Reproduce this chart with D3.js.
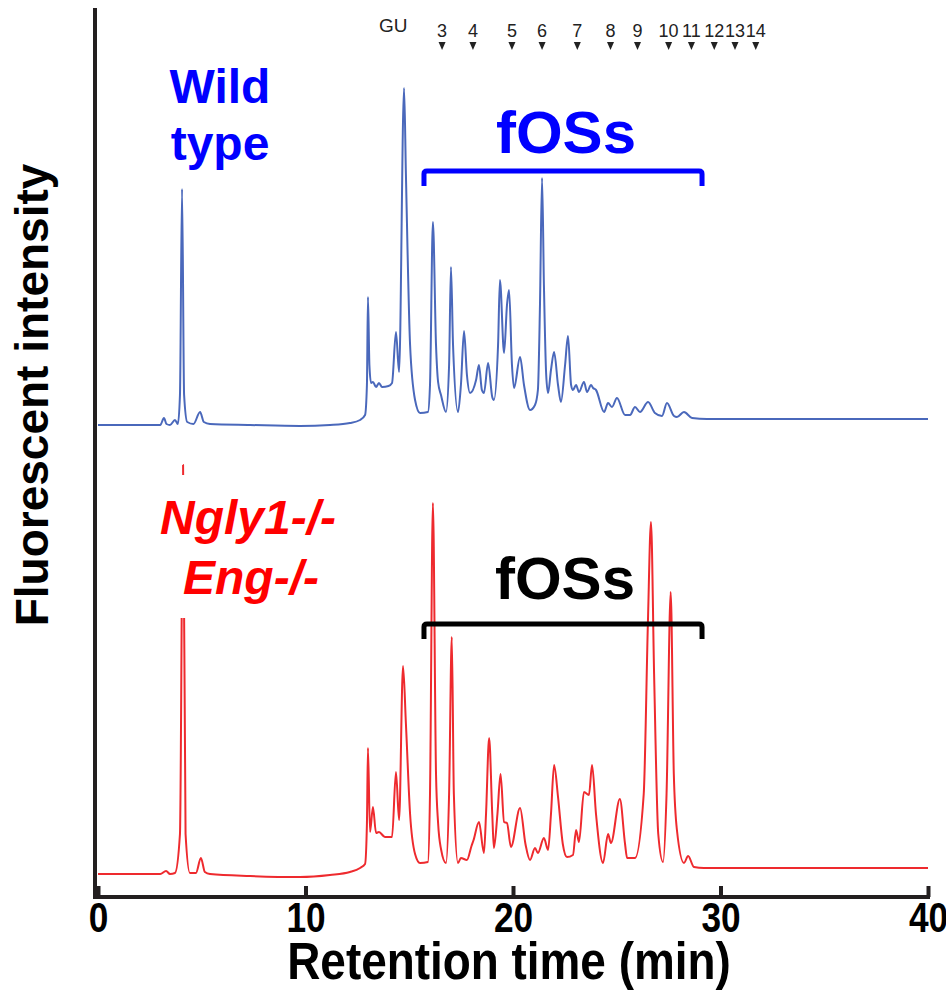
<!DOCTYPE html>
<html>
<head>
<meta charset="utf-8">
<style>
  body { margin: 0; background: #fff; }
  svg text { font-family: "Liberation Sans", Arial, Helvetica, sans-serif; }
</style>
</head>
<body>
<div id="chart"></div>
<script src="https://d3js.org/d3.v7.min.js"></script>
<script>
// retention time (min), fluorescent intensity (a.u.)
const wildType = [
  [0, 0], [3.0, 0], [3.18, 7], [3.3, 1], [3.47, 0], [3.71, 5], [3.85, 1], [3.95, 30], [4.05, 236],
  [4.15, 30], [4.3, 3], [4.6, 1], [4.92, 13], [5.1, 3], [5.4, 1], [7.33, 0], [9.73, -1], [11.18, 0],
  [12.14, 2], [12.63, 5], [12.87, 10], [12.96, 40], [13.01, 128], [13.08, 60], [13.16, 42], [13.25, 43],
  [13.4, 38], [13.54, 42], [13.69, 38], [14.0, 39], [14.17, 42], [14.36, 93], [14.51, 53], [14.75, 337],
  [14.84, 250], [15.04, 80], [15.28, 25], [15.52, 12], [15.9, 13], [16.0, 40], [16.14, 203], [16.29, 80],
  [16.39, 43], [16.53, 30], [16.77, 13], [16.92, 60], [17.01, 158], [17.11, 80], [17.35, 13], [17.49, 40],
  [17.64, 94], [17.78, 50], [17.93, 32], [18.22, 45], [18.36, 60], [18.5, 35], [18.6, 32], [18.8, 62],
  [19.0, 28], [19.08, 25], [19.28, 80], [19.37, 145], [19.57, 72], [19.71, 120], [19.81, 135], [19.95, 60],
  [20.05, 37], [20.34, 68], [20.53, 40], [20.82, 15], [21.06, 20], [21.2, 35], [21.3, 120], [21.4, 247],
  [21.49, 140], [21.6, 50], [21.69, 32], [21.83, 55], [21.98, 73], [22.17, 40], [22.31, 23], [22.51, 60],
  [22.65, 89], [22.8, 40], [22.89, 35], [23.04, 40], [23.18, 33], [23.42, 43], [23.57, 33], [23.76, 40],
  [23.86, 37], [24.0, 35], [24.39, 13], [24.58, 22], [24.77, 18], [25.01, 27], [25.4, 10], [25.64, 10],
  [25.88, 18], [26.12, 13], [26.51, 23], [26.84, 12], [27.18, 9], [27.42, 22], [27.76, 9], [27.9, 8],
  [28.24, 13], [28.63, 7], [29.35, 6], [40, 6]
];

const ngly1Eng = [
  [0, 0], [3.0, 0], [3.28, 3], [3.47, 0], [3.71, 1], [3.95, 40], [4.1, 409], [4.22, 40], [4.43, 1],
  [4.72, 1], [4.96, 16], [5.15, 2], [5.4, 0], [7.33, -2], [9.73, -3], [11.18, -1], [12.14, 2], [12.63, 6],
  [12.87, 10], [12.96, 50], [13.01, 126], [13.11, 42], [13.25, 67], [13.4, 41], [13.54, 42], [13.83, 37],
  [14.17, 37], [14.36, 102], [14.51, 54], [14.7, 208], [14.84, 150], [15.04, 60], [15.28, 20], [15.52, 11],
  [15.9, 12], [16.0, 80], [16.14, 371], [16.29, 100], [16.39, 51], [16.53, 25], [16.77, 11], [16.92, 80],
  [17.05, 237], [17.15, 80], [17.35, 11], [17.49, 16], [17.78, 14], [18.0, 28], [18.1, 34], [18.36, 52],
  [18.6, 21], [18.7, 60], [18.85, 136], [19.0, 60], [19.08, 26], [19.25, 60], [19.4, 100], [19.57, 52],
  [19.71, 51], [19.9, 27], [20.34, 66], [20.6, 30], [20.82, 14], [21.06, 26], [21.2, 21], [21.49, 36],
  [21.69, 24], [21.83, 60], [21.98, 109], [22.17, 77], [22.4, 30], [22.6, 17], [22.89, 19], [23.04, 44],
  [23.18, 32], [23.42, 82], [23.66, 79], [23.81, 109], [24.0, 60], [24.34, 11], [24.58, 40], [24.72, 31],
  [25.15, 75], [25.4, 30], [25.5, 16], [25.88, 16], [26.3, 80], [26.5, 250], [26.65, 352], [26.8, 200],
  [27.0, 40], [27.23, 12], [27.4, 80], [27.6, 282], [27.75, 100], [27.9, 44], [28.24, 11], [28.44, 18],
  [28.72, 7], [29.2, 6], [40, 6]
];

const xTicks = [0, 10, 20, 30, 40];
const guLabels = ['3', '4', '5', '6', '7', '8', '9', '10', '11', '12', '13', '14'];
const guTimes = [16.58, 18.07, 19.95, 21.4, 23.1, 24.7, 26.0, 27.5, 28.6, 29.7, 30.7, 31.7];
const fossRange = [15.71, 29.11];

const width = 946, height = 998;
const axisColor = '#231f20';

const svg = d3.select('#chart').append('svg')
  .attr('width', width)
  .attr('height', height)
  .style('background', '#fff');

const x = d3.scaleLinear().domain([0, 40]).range([98, 928]);
const yWild = d3.scaleLinear().domain([0, 350]).range([425, 75]);
const yMut = d3.scaleLinear().domain([0, 350]).range([874, 524]);

const lineWild = d3.line().x(d => x(d[0])).y(d => yWild(d[1])).curve(d3.curveMonotoneX);
const lineMut = d3.line().x(d => x(d[0])).y(d => yMut(d[1])).curve(d3.curveMonotoneX);

svg.append('path')
  .datum(wildType)
  .attr('d', lineWild)
  .attr('fill', 'none')
  .attr('stroke', '#4a68bb')
  .attr('stroke-width', 2)
  .attr('stroke-linejoin', 'round');

svg.append('path')
  .datum(ngly1Eng)
  .attr('d', lineMut)
  .attr('fill', 'none')
  .attr('stroke', '#ee2a2e')
  .attr('stroke-width', 2)
  .attr('stroke-linejoin', 'round');

// axes
const xAxis = d3.axisBottom(x)
  .tickValues(xTicks)
  .tickSizeInner(-11)
  .tickSizeOuter(0)
  .tickPadding(5);

const gx = svg.append('g')
  .attr('transform', 'translate(0,897)')
  .call(xAxis);
gx.select('.domain').remove();
gx.selectAll('.tick line').attr('stroke', axisColor).attr('stroke-width', 4);
gx.selectAll('.tick text')
  .attr('fill', '#000')
  .attr('transform', 'scale(0.84,1)')
  .style('font-family', '"Liberation Sans", Arial, sans-serif')
  .style('font-size', '42px')
  .style('font-weight', 'bold');

svg.append('line')
  .attr('x1', 95).attr('x2', 95).attr('y1', 8).attr('y2', 899)
  .attr('stroke', axisColor).attr('stroke-width', 4);
svg.append('line')
  .attr('x1', 93).attr('x2', 930).attr('y1', 897).attr('y2', 897)
  .attr('stroke', axisColor).attr('stroke-width', 4);

svg.append('text')
  .attr('transform', 'translate(509,979) scale(0.9,1)')
  .attr('text-anchor', 'middle')
  .style('font-size', '51px')
  .style('font-weight', 'bold')
  .text('Retention time (min)');

svg.append('text')
  .attr('transform', 'translate(48,395) rotate(-90)')
  .attr('text-anchor', 'middle')
  .style('font-size', '46px')
  .style('font-weight', 'bold')
  .text('Fluorescent intensity');

// GU ladder
svg.append('text')
  .attr('x', 379).attr('y', 32)
  .style('font-size', '19px')
  .attr('fill', '#222')
  .text('GU');

const gu = svg.append('g').selectAll('g')
  .data(guLabels)
  .join('g')
  .attr('transform', (d, i) => `translate(${x(guTimes[i])},0)`);
gu.append('text')
  .attr('y', 37)
  .attr('text-anchor', 'middle')
  .attr('fill', '#222')
  .style('font-size', '18px')
  .text(d => d);
gu.append('path')
  .attr('d', 'M-3.5,42L3.5,42L0,50Z')
  .attr('fill', '#222');

// fOSs brackets
function bracket(y, color) {
  const x0 = x(fossRange[0]), x1 = x(fossRange[1]);
  svg.append('path')
    .attr('d', `M${x0},${y + 15}V${y + 3}Q${x0},${y} ${x0 + 3},${y}H${x1 - 3}Q${x1},${y} ${x1},${y + 3}V${y + 15}`)
    .attr('fill', 'none')
    .attr('stroke', color)
    .attr('stroke-width', 5);
}
bracket(171, '#0000ff');
bracket(624, '#000');

svg.append('text')
  .attr('x', 566).attr('y', 153)
  .attr('text-anchor', 'middle')
  .attr('fill', '#0000ff')
  .style('font-size', '60px')
  .style('font-weight', 'bold')
  .text('fOSs');

svg.append('text')
  .attr('x', 565).attr('y', 599)
  .attr('text-anchor', 'middle')
  .attr('fill', '#000')
  .style('font-size', '60px')
  .style('font-weight', 'bold')
  .text('fOSs');

// sample labels
const wildLabel = svg.append('text')
  .attr('text-anchor', 'middle')
  .attr('fill', '#0000ff')
  .style('font-size', '48px')
  .style('font-weight', 'bold');
wildLabel.append('tspan').attr('x', 220).attr('y', 103).text('Wild');
wildLabel.append('tspan').attr('x', 220).attr('y', 160).text('type');

svg.append('rect')
  .attr('x', 150).attr('y', 475)
  .attr('width', 195).attr('height', 143)
  .attr('fill', '#fff');

const mutLabel = svg.append('text')
  .attr('text-anchor', 'middle')
  .attr('fill', '#ff0000')
  .style('font-size', '48px')
  .style('font-weight', 'bold')
  .style('font-style', 'italic');
mutLabel.append('tspan').attr('x', 248).attr('y', 534).text('Ngly1-/-');
mutLabel.append('tspan').attr('x', 251).attr('y', 594).text('Eng-/-');
</script>
</body>
</html>
